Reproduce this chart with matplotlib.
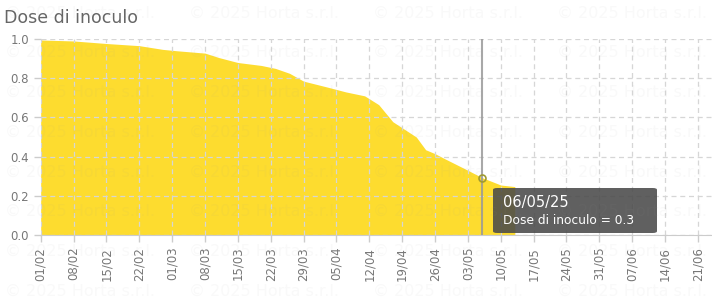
import matplotlib
matplotlib.use('Agg')
import matplotlib.pyplot as plt
import matplotlib.dates as mdates
from matplotlib.patches import FancyBboxPatch
import pandas as pd

# data
dates = ['2025-02-01', '2025-02-08', '2025-02-15', '2025-02-22', '2025-02-27',
         '2025-03-02', '2025-03-08', '2025-03-11', '2025-03-15', '2025-03-20',
         '2025-03-23', '2025-03-26', '2025-03-29', '2025-04-03', '2025-04-07',
         '2025-04-11', '2025-04-14', '2025-04-17', '2025-04-22', '2025-04-24',
         '2025-04-26', '2025-04-28', '2025-05-03', '2025-05-06', '2025-05-10',
         '2025-05-13']
dose = [0.995, 0.99, 0.977, 0.966, 0.947,
        0.94, 0.928, 0.905, 0.88, 0.865,
        0.85, 0.825, 0.785, 0.755, 0.73,
        0.71, 0.665, 0.578, 0.5, 0.435,
        0.415, 0.39, 0.33, 0.293, 0.255,
        0.247]
hover_date = '2025-05-06'
hover_label = ['06/05/25', 'Dose di inoculo = 0.3']
title = 'Dose di inoculo'
watermark = '\u00a9 2025 Horta s.r.l.'

x = pd.to_datetime(dates)
hx = pd.Timestamp(hover_date)
hy = dose[dates.index(hover_date)]

fig = plt.figure(figsize=(7.12, 3.02), dpi=100)
ax = fig.add_axes([40.7/712, 1-235/302, 1-40.7/712, 196/302])

ax.set_xlim(pd.Timestamp('2025-02-01'), pd.Timestamp('2025-06-24'))
ax.set_ylim(0, 1.0)

ax.grid(True, color='#d6d6d6', linestyle=(0, (4, 3)), linewidth=0.9, zorder=0)
ax.fill_between(x, 0, dose, color='#fdda24', alpha=0.95, linewidth=0, zorder=1)

ax.set_xticks(pd.date_range('2025-02-01', '2025-06-21', freq='7D'))
ax.xaxis.set_major_formatter(mdates.DateFormatter('%d/%m'))
ax.set_yticks([0, 0.2, 0.4, 0.6, 0.8, 1.0])
ax.yaxis.set_major_formatter(matplotlib.ticker.FormatStrFormatter('%.1f'))
ax.tick_params(axis='x', labelrotation=90, colors='#cccccc', labelcolor='#777777',
               labelsize=8.5, length=5, width=1)
ax.tick_params(axis='y', colors='#cccccc', labelcolor='#777777',
               labelsize=8.5, length=5, width=1)

for s in ['top', 'right', 'left']:
    ax.spines[s].set_visible(False)
ax.spines['bottom'].set_color('#cccccc')

# hover line, marker and tooltip
ax.axvline(hx, color='#999999', linewidth=1.5, alpha=0.85, zorder=3)
ax.plot([hx], [hy], 'o', markersize=5, markerfacecolor='none',
        markeredgecolor='#a09a30', markeredgewidth=1.2, zorder=4)
box = FancyBboxPatch((493/712, 1-233/302), 164/712, 45/302,
                     boxstyle='round,pad=0,rounding_size=0.006',
                     transform=fig.transFigure, facecolor='#4a4a4a',
                     edgecolor='none', alpha=0.88, zorder=5)
fig.patches.append(box)
fig.text(503/712, 1-203/302, hover_label[0], color='white', fontsize=10.5,
         va='center', ha='left', zorder=6)
fig.text(503/712, 1-220/302, hover_label[1], color='white', fontsize=8.8,
         va='center', ha='left', zorder=6)

fig.text(4/712, 1-18/302, title, color='#666666', fontsize=12.5,
         va='center', ha='left')

# faint watermark grid
for r in range(8):
    for c in range(4):
        fig.text((5 + 184*c)/712, 1-(13 + 39.7*r)/302, watermark,
                 color='#999999', alpha=0.06, fontsize=11.5,
                 va='center', ha='left', zorder=10)

fig.savefig('out.png', dpi=100)
